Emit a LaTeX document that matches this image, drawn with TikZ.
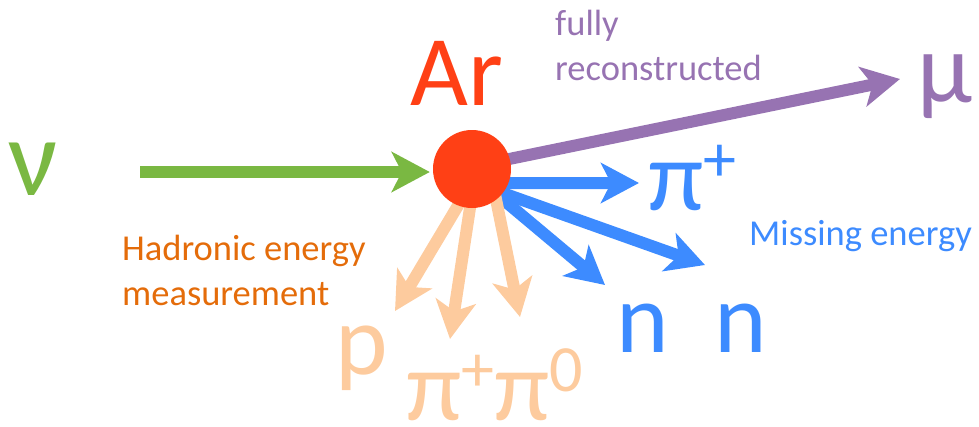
\documentclass[tikz,border=0pt]{standalone}
\usepackage{fontspec}
\setmainfont{Carlito}
\usepackage{tikz}
\usetikzlibrary{arrows.meta, backgrounds}
\definecolor{nugreen}{RGB}{122,184,66}
\definecolor{argonred}{RGB}{255,64,21}
\definecolor{mupurple}{RGB}{151,115,178}
\definecolor{missblue}{RGB}{61,139,255}
\definecolor{hadpeach}{RGB}{253,203,158}
\definecolor{hadorange}{RGB}{228,108,10}
\newcommand{\hsup}[1]{\raisebox{29pt}{\fontsize{66}{66}\selectfont #1}}

\begin{document}
\begin{tikzpicture}[x=1pt, y=-1pt,
    ball/.style ={circle, fill=argonred, minimum size=78pt, inner sep=0pt},
    big/.style  ={inner sep=0pt, anchor=base, text depth=0pt,
                  font=\fontsize{100}{120}\selectfont},
    note/.style ={inner sep=0pt, anchor=base west, align=left,
                  font=\fontsize{36.5}{45}\selectfont},
    track/.style={line width=12pt,
                  -{Stealth[length=38pt, width=40pt, inset=10pt]},
                  shorten <=-10pt}
]
\useasboundingbox (0,0) rectangle (979,426);

% ============================================================
% VERTEX AND PARTICLES
% ============================================================

\node[ball] (ar) at (472,169) {};
\node[big, text=argonred] (artxt) at (457,105) {Ar};
\node[big, text=nugreen, font=\fontsize{110}{120}\selectfont] (nu) at (33,195) {ν};
\node[big, text=mupurple]  (mu)  at (945,102) {μ};
\node[big, text=missblue, anchor=base west] (pip) at (648,210) {π\hsup{+}};
\node[big, text=missblue]  (nn)  at (692,352) {n~~n};
\node[big, text=hadpeach]  (p)   at (362,374) {p};
\node[big, text=hadpeach, anchor=base west] (pis) at (406,420) {π\hsup{+}π\hsup{0}};

% -- labels (base = last line) --
\node[note, text=mupurple]  (full) at (555,80)  {fully\\reconstructed};
\node[note, text=hadorange] (had)  at (122,305) {Hadronic energy\\measurement};
\node[note, text=missblue]  (miss) at (749,245) {Missing energy};

% -- arrow tips --
\coordinate (nustart) at (140,172);
\coordinate (mutip)   at (900,79);
\coordinate (piptip)  at (639,183);
\coordinate (nrtip)   at (705,265);
\coordinate (nltip)   at (605,285);
\coordinate (ptip)    at (395,311);
\coordinate (pitip)   at (450,339);
\coordinate (pztip)   at (520,317);

% ============================================================
% ARROWS
% ============================================================

\begin{scope}[on background layer]
\draw[track, nugreen, shorten <=0pt, shorten >=3pt] (nustart) -- (ar.west |- nustart);
\draw[track, mupurple]  (ar.15)   -- (mutip);
\draw[track, missblue]  (ar.-21)  -- (piptip);
\draw[track, missblue]  (ar.-38)  -- (nrtip);
\draw[track, missblue]  (ar.-45)  -- (nltip);
\draw[track, hadpeach]  (ar.-111) -- (ptip);
\draw[track, hadpeach]  (ar.-93)  -- (pitip);
\draw[track, hadpeach]  (ar.-52)  -- (pztip);
\end{scope}

\end{tikzpicture}
\end{document}
